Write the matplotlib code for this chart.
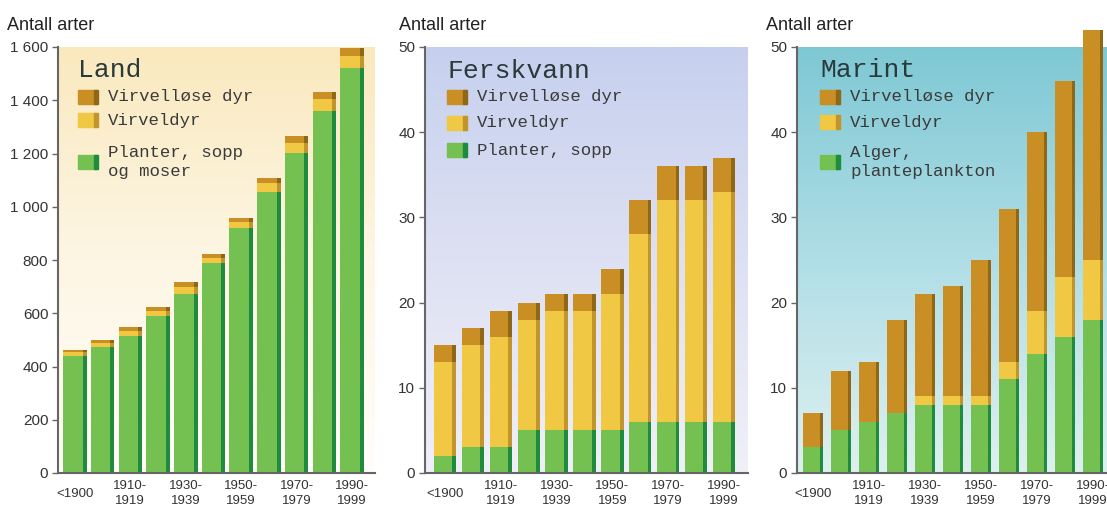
import matplotlib.pyplot as plt
import numpy as np

# Periods (11 bars) and tick labels (every other bar)
periods = ['<1900', '1900-1909', '1910-1919', '1920-1929', '1930-1939', '1940-1949',
           '1950-1959', '1960-1969', '1970-1979', '1980-1989', '1990-1999']
tick_labels = ['<1900', '1910-\n1919', '1930-\n1939', '1950-\n1959', '1970-\n1979', '1990-\n1999']

# Land
land_plants = [438, 473, 516, 588, 674, 789, 921, 1055, 1203, 1360, 1523]
land_vert = [15, 16, 18, 21, 25, 20, 20, 35, 38, 44, 44]
land_invert = [10, 11, 13, 15, 17, 15, 15, 19, 25, 28, 31]

# Ferskvann
fresh_plants = [2, 3, 3, 5, 5, 5, 5, 6, 6, 6, 6]
fresh_vert = [11, 12, 13, 13, 14, 14, 16, 22, 26, 26, 27]
fresh_invert = [2, 2, 3, 2, 2, 2, 3, 4, 4, 4, 4]

# Marint
sea_algae = [3, 5, 6, 7, 8, 8, 8, 11, 14, 16, 18]
sea_vert = [0, 0, 0, 0, 1, 1, 1, 2, 5, 7, 7]
sea_invert = [4, 7, 7, 11, 12, 13, 16, 18, 21, 23, 27]

GREEN, GREEN_D = '#74c152', '#1e8c3c'
YELLOW, YELLOW_D = '#f1c843', '#c2952c'
BROWN, BROWN_D = '#c98f24', '#8e6817'

mono = 'Liberation Mono'
sans = 'Liberation Sans'

fig = plt.figure(figsize=(11.07, 5.12), dpi=100)
W, H = 1107, 512


def px_axes(left, right, top=47, bottom=473):
    return fig.add_axes([left / W, (H - bottom) / H, (right - left) / W, (bottom - top) / H])


def gradient(ax, stops):
    pos = [s[0] for s in stops]
    cols = np.array([s[1] for s in stops]) / 255.0
    t = np.linspace(0, 1, 256)
    img = np.stack([np.interp(t, pos, cols[:, c]) for c in range(3)], axis=1)[:, None, :]
    ax.imshow(img, extent=[0, 1, 0, 1], transform=ax.transAxes, aspect='auto',
              origin='upper', zorder=0)


def stacked(ax, segs, width, ymax):
    x = np.arange(len(periods))
    bottom = np.zeros(len(periods))
    s = width * 0.17
    for vals, c, cd in segs:
        vals = np.array(vals, dtype=float)
        ax.bar(x, vals, width, bottom=bottom, color=c, zorder=2, clip_on=False, linewidth=0)
        ax.bar(x + width / 2 - s / 2, vals, s, bottom=bottom, color=cd, zorder=3,
               clip_on=False, linewidth=0)
        bottom += vals
    ax.set_xticks(x[::2])
    ax.set_xticklabels(tick_labels, fontsize=9.5, family=sans, color='#333333',
                       linespacing=1.3)
    ax.tick_params(axis='x', length=0, pad=5)
    ax.tick_params(axis='y', length=4, width=1, color='#666666', direction='out',
                   pad=3, labelsize=11, labelcolor='#333333')
    ax.set_ylim(0, ymax)
    for sp in ['top', 'right']:
        ax.spines[sp].set_visible(False)
    for sp in ['left', 'bottom']:
        ax.spines[sp].set_color('#666666')
        ax.spines[sp].set_linewidth(1.5)
        ax.spines[sp].set_zorder(4)
    ax.set_axisbelow(False)
    # the single-line "<1900" label sits between the two text lines of the others
    ax.get_xticklabels()[0].set_y(-0.018)


def set_yticks(ax, ticks, labels):
    ax.set_yticks(ticks)
    ax.set_yticklabels(labels, family=sans, fontsize=11)


def legend(x0, title, ty, rows, fsz=12.5):
    # positions in figure pixels
    fig.text(x0 / W, 1 - ty / H, title, family=mono, fontsize=19, color='#2a3a3a',
             va='center', ha='left')
    for y, lbl, c, cd in rows:
        fig.patches.append(plt.Rectangle((x0 / W, 1 - (y + 7) / H), 19 / W, 14 / H,
                                         transform=fig.transFigure, color=c, zorder=5))
        fig.patches.append(plt.Rectangle(((x0 + 16) / W, 1 - (y + 7) / H), 4 / W, 14 / H,
                                         transform=fig.transFigure, color=cd, zorder=6))
        fig.text((x0 + 30) / W, 1 - y / H, lbl, family=mono, fontsize=fsz,
                 color='#3a3a3a', va='center', ha='left', linespacing=1.3)


def ylabel(x):
    fig.text(x / W, 1 - 25 / H, 'Antall arter', family=sans, fontsize=13,
             va='center', color='#222222')


# Panel 1: Land
ax1 = px_axes(58, 375)
gradient(ax1, [(0, (250, 233, 190)), (0.5, (253, 246, 228)), (1, (255, 254, 250))])
stacked(ax1, [(land_plants, GREEN, GREEN_D), (land_vert, YELLOW, YELLOW_D),
              (land_invert, BROWN, BROWN_D)], 0.85, 1600)
ax1.set_xlim(-0.61, 10.83)
land_ticks = list(range(0, 1601, 200))
set_yticks(ax1, land_ticks, [f'{v // 1000} {v % 1000:03d}' if v >= 1000 else str(v)
                             for v in land_ticks])
ylabel(7)
legend(78, 'Land', 70, [(97, 'Virvelløse dyr', BROWN, BROWN_D),
                        (120, 'Virveldyr', YELLOW, YELLOW_D),
                        (162, 'Planter, sopp\nog moser', GREEN, GREEN_D)])

# Panel 2: Ferskvann
ax2 = px_axes(425, 748)
gradient(ax2, [(0, (198, 208, 238)), (0.5, (222, 225, 243)), (1, (240, 240, 248))])
stacked(ax2, [(fresh_plants, GREEN, GREEN_D), (fresh_vert, YELLOW, YELLOW_D),
              (fresh_invert, BROWN, BROWN_D)], 0.8, 50)
ax2.set_xlim(-0.72, 10.86)
set_yticks(ax2, range(0, 51, 10), [str(v) for v in range(0, 51, 10)])
ylabel(399)
legend(447, 'Ferskvann', 71, [(97, 'Virvelløse dyr', BROWN, BROWN_D),
                              (123, 'Virveldyr', YELLOW, YELLOW_D),
                              (150, 'Planter, sopp', GREEN, GREEN_D)])

# Panel 3: Marint
ax3 = px_axes(797, 1107)
gradient(ax3, [(0, (126, 200, 212)), (0.5, (176, 222, 230)), (1, (222, 240, 240))])
stacked(ax3, [(sea_algae, GREEN, GREEN_D), (sea_vert, YELLOW, YELLOW_D),
              (sea_invert, BROWN, BROWN_D)], 0.72, 50)
ax3.set_xlim(-0.57, 10.5)
set_yticks(ax3, range(0, 51, 10), [str(v) for v in range(0, 51, 10)])
ylabel(766)
legend(820, 'Marint', 70, [(97, 'Virvelløse dyr', BROWN, BROWN_D),
                           (122, 'Virveldyr', YELLOW, YELLOW_D),
                           (162, 'Alger,\nplanteplankton', GREEN, GREEN_D)])

plt.savefig('out.png', dpi=100)
